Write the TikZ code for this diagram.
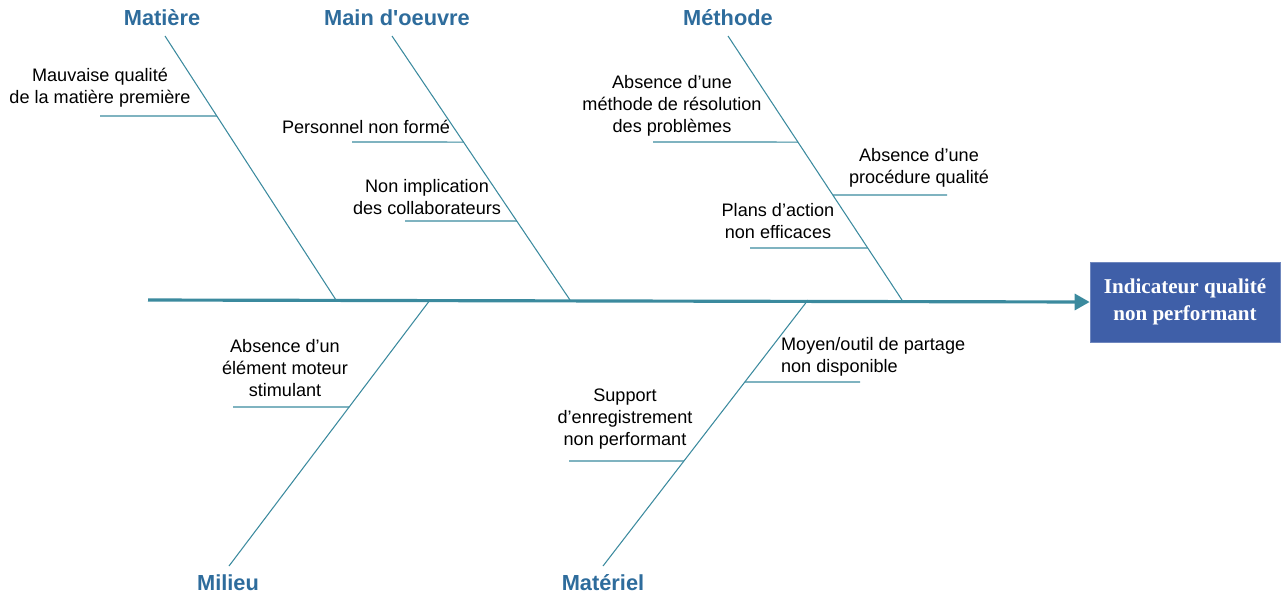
\documentclass[tikz,border=0pt]{standalone}
\usepackage{fontspec}
\setmainfont{Liberation Sans}
\newfontfamily\effetfont{Liberation Serif}
\usetikzlibrary{arrows.meta,calc}
\definecolor{arete}{HTML}{3B8A9E}
\definecolor{titre}{HTML}{2E6C9C}
\definecolor{effet}{HTML}{3F5FA8}

\begin{document}
\begin{tikzpicture}[x=0.02cm,y=-0.02cm]
\tikzset{cause/.style={inner sep=1pt, text=titre, font=\fontsize{12.4}{14}\selectfont\bfseries}}
\tikzset{sous/.style={inner sep=1pt, align=center, font=\fontsize{10.3}{12.5}\selectfont}}
\tikzset{branche/.style={draw=arete, line width=0.6pt}}
\tikzset{ligne/.style={draw=arete, line width=0.7pt}}
\tikzset{dorsale/.style={draw=arete, line width=1.8pt, -{Triangle[length=0.3cm,width=0.32cm]}}}

\useasboundingbox (0,0) rectangle (1284,596);

\node[fill=effet, draw=effet!75!white, text=white, minimum width=3.8cm, minimum height=1.6cm, align=center,
  font=\effetfont\fontsize{12}{15}\selectfont\bfseries](eff)at(1185,302){Indicateur qualité\\non performant};

\node[cause](mat)at(162,18){Matière};
\node[cause](mo)at(397,18){Main d\textquotesingle oeuvre};
\node[cause](met)at(728,18){Méthode};
\node[cause](mil)at(228,583){Milieu};
\node[cause](mtl)at(603,583){Matériel};

\coordinate (dos) at (148,300);
\coordinate (t1) at (165,36);  \coordinate (b1) at (336,300);
\coordinate (t2) at (392,36);  \coordinate (b2) at (570,300);
\coordinate (t3) at (728,36);  \coordinate (b3) at (902,300);
\coordinate (t4) at (229,566); \coordinate (b4) at (430,300);
\coordinate (t5) at (603,566); \coordinate (b5) at (808,300);

\node[sous](s1)at(100,88){Mauvaise qualité\\de la matière première};
\node[sous](s2)at(366,127){Personnel non formé};
\node[sous](s3)at(427,197){Non implication\\des collaborateurs};
\node[sous](s4)at(672,106){Absence d'une\\méthode de résolution\\des problèmes};
\node[sous](s5)at(919,168){Absence d'une\\procédure qualité};
\node[sous](s6)at(778,221){Plans d'action\\non efficaces};
\node[sous](s7)at(285,368){Absence d'un\\élément moteur\\stimulant};
\node[sous, align=left, anchor=west](s8)at(779,357){Moyen/outil de partage\\non disponible};
\node[sous](s9)at(625,419){Support\\d'enregistrement\\non performant};

\coordinate (e1) at (100,116);
\coordinate (e2) at (352,142);
\coordinate (e3) at (405,221);
\coordinate (e4) at (653,142);
\coordinate (e5) at (947,195);
\coordinate (e6) at (750,248);
\coordinate (e7) at (233,407);
\coordinate (e8) at (860,382);
\coordinate (e9) at (569,461);

\path[dorsale] (dos) -- (eff.west);
\path[branche] (t1) -- (b1);
\path[branche] (t2) -- (b2);
\path[branche] (t3) -- (b3);
\path[branche] (t4) -- (b4);
\path[branche] (t5) -- (b5);

\path[ligne] ($(t1)!0.303!(b1)$) -- (e1);
\path[ligne] ($(t2)!0.402!(b2)$) -- (e2);
\path[ligne] ($(t2)!0.701!(b2)$) -- (e3);
\path[ligne] ($(t3)!0.402!(b3)$) -- (e4);
\path[ligne] ($(t3)!0.602!(b3)$) -- (e5);
\path[ligne] ($(t3)!0.803!(b3)$) -- (e6);
\path[ligne] ($(t4)!0.598!(b4)$) -- (e7);
\path[ligne] ($(t5)!0.692!(b5)$) -- (e8);
\path[ligne] ($(t5)!0.395!(b5)$) -- (e9);
\end{tikzpicture}
\end{document}
